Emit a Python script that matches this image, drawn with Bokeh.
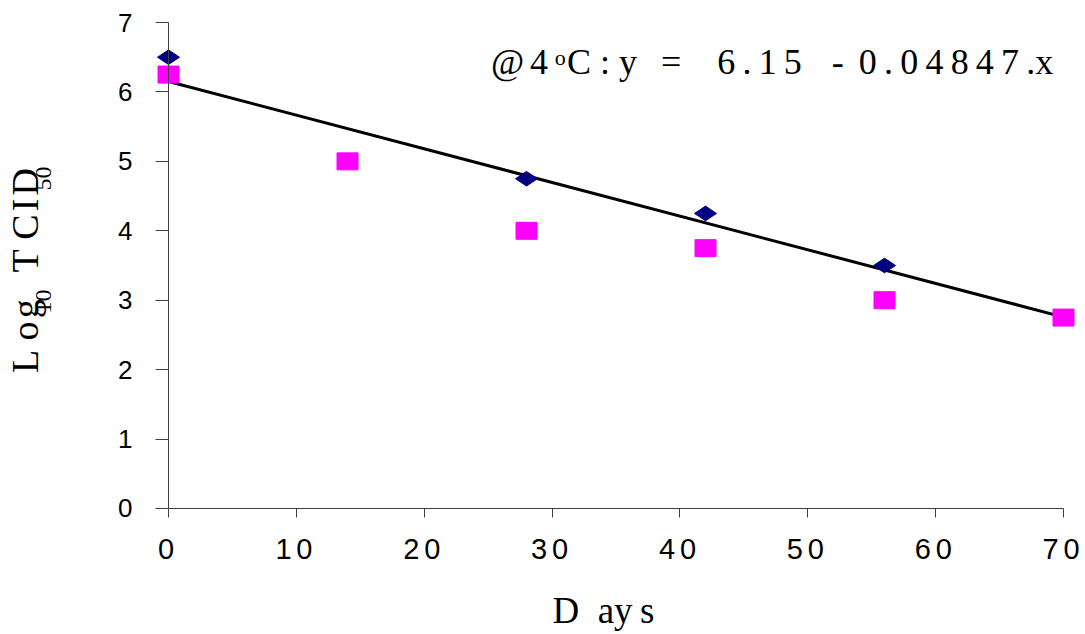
import math
from bokeh.plotting import figure
from bokeh.models import Range1d, Label, FixedTicker
from bokeh.embed import file_html
from bokeh.resources import INLINE

# Data
days_a = [0, 28, 42, 56]
log_a = [6.5, 4.75, 4.25, 3.5]
days_b = [0, 14, 28, 42, 56, 70]
log_b = [6.25, 5.0, 4.0, 3.75, 3.0, 2.75]
fit_days = [0, 70]
fit_log = [6.15, 2.757]
x_ticks = [0, 10, 20, 30, 40, 50, 60, 70]
y_ticks = [0, 1, 2, 3, 4, 5, 6, 7]

SERIF = "Liberation Serif"
SANS = "Liberation Sans"
LS = "\u2009"      # letter-spacing stand-in (thin space)
HAIR = "\u200a"
TXT = "black"

W, H = 1085, 634
p = figure(width=W, height=H,
           x_range=Range1d(-13.14, 71.72), y_range=Range1d(-1.815, 7.317),
           output_backend="svg", toolbar_location=None, min_border=0)
p.outline_line_color = None
p.grid.visible = False
p.background_fill_color = "white"
p.border_fill_color = "white"

axis_color = "#404040"
for ax in (p.xaxis[0], p.yaxis[0]):
    ax.fixed_location = 0
    ax.axis_line_color = axis_color
    ax.major_tick_line_color = axis_color
    ax.minor_tick_line_color = None
    ax.major_tick_in = 0
    ax.major_label_text_color = TXT
    ax.major_label_text_font = SANS

p.xaxis.ticker = FixedTicker(ticks=x_ticks)
p.xaxis.bounds = (0, 70)
p.xaxis.major_tick_out = 9
p.xaxis.major_label_text_font_size = "29px"
p.xaxis.major_label_standoff = 16
p.xaxis.major_label_overrides = {t: "\u2006".join(str(t)) + "\u2006" for t in x_ticks}

p.yaxis.ticker = FixedTicker(ticks=y_ticks)
p.yaxis.bounds = (0, 7)
p.yaxis.major_tick_out = 13
p.yaxis.major_label_text_font_size = "26px"
p.yaxis.major_label_standoff = 23

# trend line
p.line(fit_days, fit_log, line_color="black", line_width=3)

# series
p.scatter(days_a, log_a, marker="diamond", size=22, angle=math.pi / 2,
          fill_color="#000080", line_color="#000080")
p.rect(days_b, log_b, width=21, height=17, width_units="screen",
       height_units="screen", fill_color="#FF00FF", line_color="#FF00FF")

# equation annotation
eq_font = "36px"
p.add_layout(Label(x=25.22, y=6.43, text="@" + "\u2006" + "4", text_font=SERIF,
                   text_font_size=eq_font, text_baseline="alphabetic",
                   text_color=TXT))
p.add_layout(Label(x=30.2, y=6.49, text="o", text_font=SERIF,
                   text_font_size="22px", text_baseline="alphabetic",
                   text_color=TXT))
eq_rest = ("C" + "\u2005" + ":" + "\u2005" + "y" + "\u2002\u2006" + "=" + "\u2003"
           + LS.join("6.15") + "\u2002\u2004" + "-" + "\u2005\u2006"
           + LS.join("0.04847.") + "x")
p.add_layout(Label(x=31.16, y=6.43, text=eq_rest, text_font=SERIF,
                   text_font_size=eq_font, text_baseline="alphabetic",
                   text_color=TXT))

# y-axis title with subscripts (rotated)
ang = math.pi / 2
p.add_layout(Label(x=-11.2, y=1.95, text="L" + "\u2005" + "o" + HAIR + "g", angle=ang,
                   text_font=SERIF, text_font_size="38px", text_baseline="alphabetic",
                   text_color=TXT))
p.add_layout(Label(x=-9.75, y=2.81, text="10", angle=ang, text_font=SERIF,
                   text_font_size="24px", text_baseline="alphabetic",
                   text_color=TXT))
p.add_layout(Label(x=-11.2, y=3.40, text="T" + "\u2005" + "C" + HAIR + "I" + HAIR + "D",
                   angle=ang, text_font=SERIF, text_font_size="38px",
                   text_baseline="alphabetic", text_color=TXT))
p.add_layout(Label(x=-9.75, y=4.58, text="50", angle=ang, text_font=SERIF,
                   text_font_size="24px", text_baseline="alphabetic",
                   text_color=TXT))

# x-axis title
p.add_layout(Label(x=30.03, y=-1.47, text="D\u2002ay\u2009s", text_font=SERIF,
                   text_font_size="37px", text_baseline="alphabetic",
                   text_color=TXT))

open("out.html", "w").write(file_html(p, INLINE))
